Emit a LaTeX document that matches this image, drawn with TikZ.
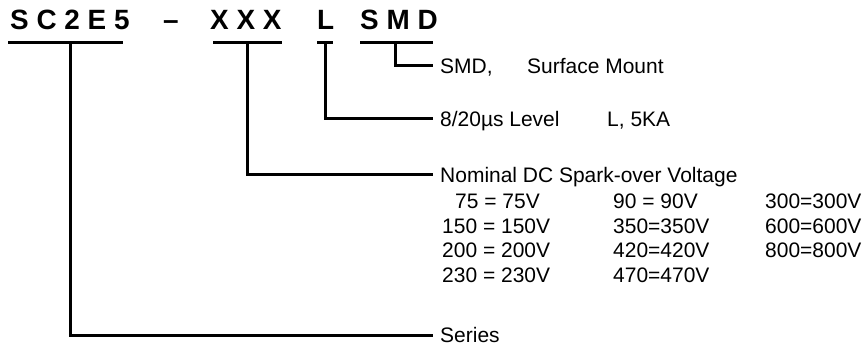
\documentclass[tikz,border=0pt]{standalone}
\usepackage{fontspec}
\setmainfont{Liberation Sans}
\begin{document}
\begin{tikzpicture}[x=0.03cm,y=-0.03cm,
  bar/.style={line width=0.09cm},
  code/.style={anchor=base west,inner sep=0pt,font=\fontsize{23.8pt}{28pt}\selectfont\bfseries},
  lbl/.style={anchor=west,inner ysep=0pt,inner xsep=0.21cm,text height=12.8pt,text depth=0pt,font=\fontsize{17.9pt}{21pt}\selectfont},
  cell/.style={lbl,inner xsep=0pt}]
  \useasboundingbox (0,0) rectangle (864,344);
  \node[code] (Ser) at (10,30) {S C 2 E 5};
  \node[code] (Dash) at (163,30) {--};
  \node[code] (Volt) at (210,30) {X X X};
  \node[code] (Lev) at (317,30) {L};
  \node[code] (Pkg) at (360,30) {S M D};
  \coordinate (Sa) at (8,43);
  \coordinate (Sb) at (123,43);
  \coordinate (Sm) at (70,43);
  \coordinate (Sd) at (70,335);
  \coordinate (Va) at (213,43);
  \coordinate (Vb) at (282,43);
  \coordinate (Vm) at (247,43);
  \coordinate (Vd) at (247,175);
  \coordinate (La) at (317,43);
  \coordinate (Lb) at (333,43);
  \coordinate (Lm) at (325,43);
  \coordinate (Ld) at (325,119);
  \coordinate (Pa) at (360,43);
  \coordinate (Pb) at (433,43);
  \coordinate (Pm) at (395,43);
  \coordinate (Pd) at (395,66);
  \node[lbl] (smd) at (433,66) {\makebox[2.61cm][l]{SMD,}Surface Mount};
  \node[lbl] (lvl) at (433,119) {\makebox[5.01cm][l]{8/20µs Level}L, 5KA};
  \node[lbl] (nom) at (433,175) {Nominal DC Spark-over Voltage};
  \node[lbl] (series) at (433,335) {Series};
  \draw[bar] (Sa)--(Sb);
  \draw[bar] (Va)--(Vb);
  \draw[bar] (La)--(Lb);
  \draw[bar] (Pa)--(Pb);
  \draw[bar] (Pm)--(Pd)--(smd.west);
  \draw[bar] (Lm)--(Ld)--(lvl.west);
  \draw[bar] (Vm)--(Vd)--(nom.west);
  \draw[bar] (Sm)--(Sd)--(series.west);
  \node[cell] (v75) at (455,201) {75 = 75V};
  \node[cell] (v150) at (442,226) {150 = 150V};
  \node[cell] (v200) at (442,250) {200 = 200V};
  \node[cell] (v230) at (442,275) {230 = 230V};
  \node[cell] (v90) at (613,201) {90 = 90V};
  \node[cell] (v350) at (613,226) {350=350V};
  \node[cell] (v420) at (613,250) {420=420V};
  \node[cell] (v470) at (613,275) {470=470V};
  \node[cell] (v300) at (765,201) {300=300V};
  \node[cell] (v600) at (765,226) {600=600V};
  \node[cell] (v800) at (765,250) {800=800V};
\end{tikzpicture}
\end{document}
